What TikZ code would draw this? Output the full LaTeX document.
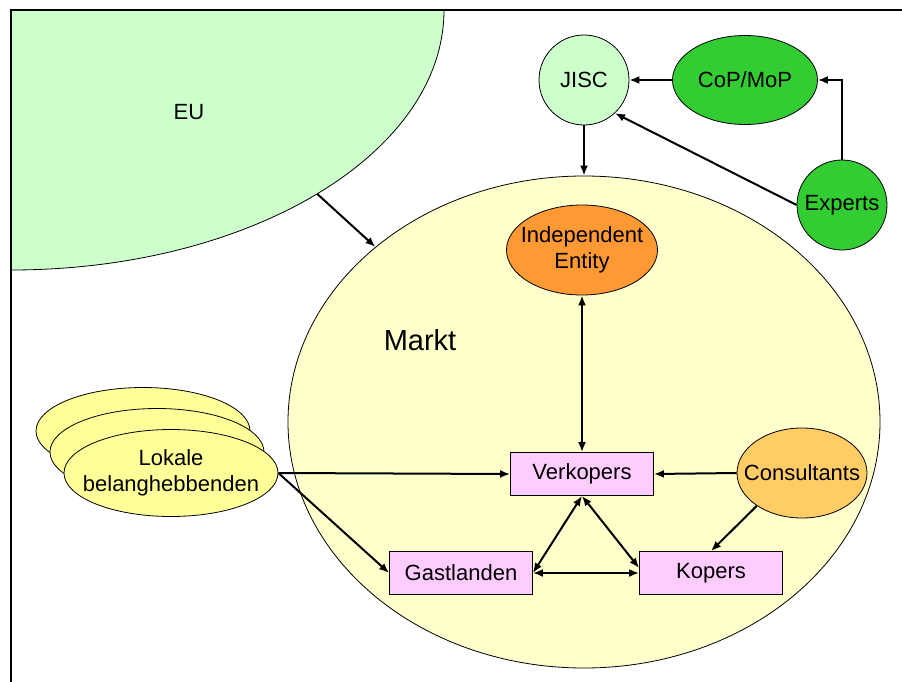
\documentclass[tikz,border=0pt]{standalone}
\usepackage{fontspec}
\setmainfont{Liberation Sans}
\usetikzlibrary{arrows.meta,shapes.geometric}

\definecolor{paleGreen}{HTML}{CCFFCC}
\definecolor{paleYellow}{HTML}{FFFFCC}
\definecolor{lokYellow}{HTML}{FFFF99}
\definecolor{midGreen}{HTML}{33CC33}
\definecolor{deepOrange}{HTML}{FF9933}
\definecolor{softOrange}{HTML}{FFCC66}
\definecolor{pinkBox}{HTML}{FFCCFF}

\tikzset{
  lbl/.style={font=\fontsize{22}{26}\selectfont, align=center, inner sep=0pt},
  oval/.style={ellipse, draw=black, line width=0.8pt, inner sep=0pt},
  disc/.style={circle, draw=black, line width=0.8pt, inner sep=0pt, minimum size=90pt},
  pbox/.style={rectangle, draw=black, line width=0.8pt, fill=pinkBox, inner sep=0pt,
               minimum width=143pt, minimum height=43pt, lbl},
  txt/.style={label={[lbl]center:#1}},
  arr/.style={line width=2pt, -{Latex[length=10pt,width=8pt]}},
  darr/.style={line width=2pt, {Latex[length=10pt,width=8pt]}-{Latex[length=10pt,width=8pt]}},
}

\begin{document}
\begin{tikzpicture}[x=1pt,y=-1pt]
\useasboundingbox (0,0) rectangle (902,682);

% EU: quarter of an ellipse centred on the frame corner
\begin{scope}
  \clip (11,10) rectangle (902,682);
  \node[oval, fill=paleGreen, minimum width=866pt, minimum height=520pt] (eu) at (11,10) {};
\end{scope}
\node[lbl] at (189,112) {EU};

% frame
\draw[line width=1.4pt] (902,10) -- (11,10) -- (11,682);

% market
\node[oval, fill=paleYellow, minimum width=592pt, minimum height=492pt] (markt) at (584,422) {};
\node[font=\fontsize{29}{34}\selectfont] at (420,340) {Markt};

% top-right actors
\node[disc, fill=paleGreen, txt=JISC] (jisc) at (584,80) {};
\node[oval, fill=midGreen, minimum width=145pt, minimum height=89pt, txt=CoP/MoP] (cop) at (745,80) {};
\node[disc, fill=midGreen, txt=Experts] (exp) at (842,205) {};

% inside the market
\node[oval, fill=deepOrange, minimum width=151pt, minimum height=90pt,
      txt={Independent\\Entity}] (ie) at (582,250) {};
\node[pbox] (verk) at (582,474) {Verkopers};
\node[pbox] (gast) at (461,573) {Gastlanden};
\node[pbox] (kop) at (711,573) {Kopers};
\node[oval, fill=softOrange, minimum width=130pt, minimum height=90pt, txt=Consultants] (cons) at (802,473) {};

% local stakeholders, stacked
\node[oval, fill=lokYellow, minimum width=214pt, minimum height=87pt] (lok3) at (143,431) {};
\node[oval, fill=lokYellow, minimum width=214pt, minimum height=87pt] (lok2) at (157,452) {};
\node[oval, fill=lokYellow, minimum width=214pt, minimum height=87pt,
      txt={Lokale\\belanghebbenden}] (lok) at (171,473) {};

% connectors
\draw[arr] (eu.-31) -- (markt.140.7);
\draw[arr] (jisc.south) -- (markt.north);
\draw[arr] (cop.west) -- (jisc.east);
\draw[arr] (exp.north) |- (cop.east);
\draw[arr] (exp.west) -- (jisc.-47);
\draw[darr] (ie.south) -- (verk.north);
\draw[arr] (cons.west) -- (verk.east);
\draw[arr] (cons.-144) -- (kop.north);
\draw[darr] (verk.south) -- (gast.east);
\draw[darr] (verk.south) -- ([yshift=5pt]kop.west);
\draw[darr] (gast.east) -- (kop.west);
\draw[arr] (lok.east) -- (verk.west);
\draw[arr] (lok.east) -- (gast.west);
\end{tikzpicture}
\end{document}
